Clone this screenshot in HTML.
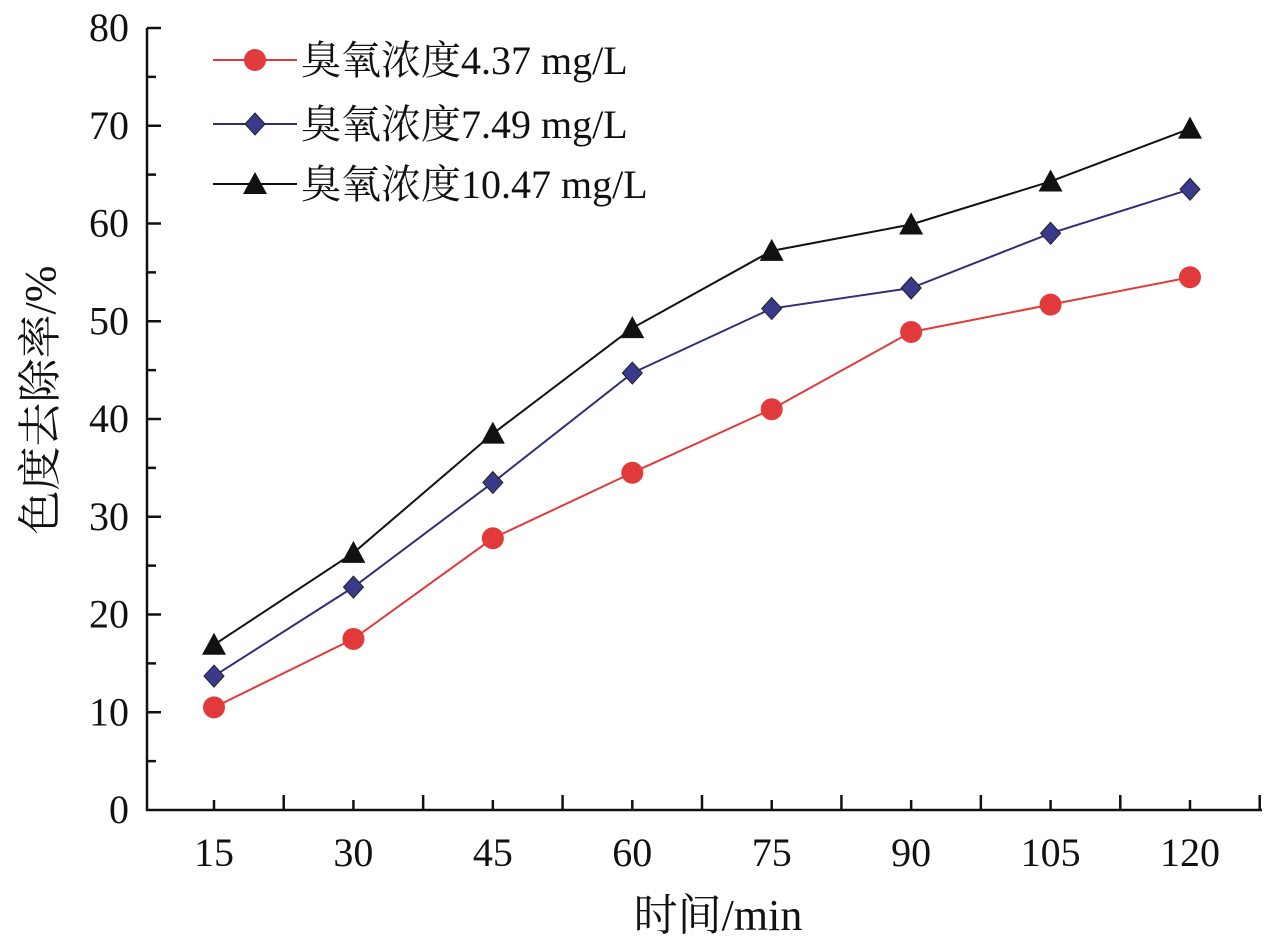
<!DOCTYPE html>
<html><head><meta charset="utf-8"><style>
html,body{margin:0;padding:0;background:#fff;}
svg text{font-family:"Liberation Serif","Noto Serif CJK SC",serif;fill:#111;}
</style></head><body>
<svg id="chart" width="1278" height="943" xmlns="http://www.w3.org/2000/svg">
<g id="axes"></g><g id="series"></g><g id="legend"></g>
</svg>
<script>
const categories=[15,30,45,60,75,90,105,120];
const yTicks=[0,10,20,30,40,50,60,70,80];
const seriesRed=[10.5,17.5,27.8,34.5,41,48.9,51.7,54.5];
const seriesBlue=[13.7,22.8,33.5,44.7,51.3,53.4,59,63.5];
const seriesBlack=[16.9,26.3,38.5,49.3,57.2,59.9,64.3,69.7];
const seriesNames=["臭氧浓度4.37 mg/L","臭氧浓度7.49 mg/L","臭氧浓度10.47 mg/L"];
const NS="http://www.w3.org/2000/svg";
function X(v){return 214+(v-15)*(1190-214)/105;}
function Y(v){return 810-v*(810-28)/80;}
function mk(tag,attrs,parent){const e=document.createElementNS(NS,tag);for(const k in attrs)e.setAttribute(k,attrs[k]);parent.appendChild(e);return e;}
const axes=document.getElementById('axes');
let a=mk('path',{d:'M147,28 V810 H1262',stroke:'#111','stroke-width':2.5,fill:'none'},axes);


for(let v=5;v<80;v+=10){
 const l=mk('line',{x1:147,x2:156,y1:Y(v),y2:Y(v),stroke:'#111','stroke-width':2.5},axes);
 
 
}
yTicks.forEach(t=>{
 if(t>0){
 const l=mk('line',{x1:147,x2:161,y1:Y(t),y2:Y(t),stroke:'#111','stroke-width':2.5},axes);
 
 
 }
 const tx=mk('text',{x:129,y:Y(t)+13,'text-anchor':'end','font-size':40},axes);
 tx.textContent=t;
 
 
});
for(let v=15;v<=127.5;v+=7.5){
 const onCat=categories.includes(v);
 const l=mk('line',{x1:X(v),x2:X(v),y1:810,y2:onCat?800:795,stroke:'#111','stroke-width':2.5},axes);
 
 
}
categories.forEach(c=>{
 const tx=mk('text',{x:X(c),y:866,'text-anchor':'middle','font-size':40},axes);
 tx.textContent=c;
 
 
});
let xt=mk('text',{x:718,y:930,'text-anchor':'middle','font-size':44},axes);
xt.textContent='时间/min';


let yt=mk('text',{x:0,y:0,'text-anchor':'middle','font-size':44,transform:'translate(55,400) rotate(-90)'},axes);
yt.textContent='色度去除率/%';


function marker(kind,x,y,color,p){
 let e;
 if(kind==='circle')e=mk('circle',{cx:x,cy:y,r:11,fill:color},p);
 else if(kind==='diamond')e=mk('path',{d:`M${x},${y-11}L${x+10},${y}L${x},${y+11}L${x-10},${y}Z`,fill:color,stroke:'#222','stroke-width':1},p);
 else e=mk('path',{d:`M${x},${y-12}L${x+12},${y+10}L${x-12},${y+10}Z`,fill:color},p);
 return e;
}
const defs=[[seriesRed,'#e23a3a','#e23a3a','circle','red'],[seriesBlue,'#2f2f7a','#3a3a8c','diamond','blue'],[seriesBlack,'#111','#111','triangle','black']];
const sg=document.getElementById('series');
defs.forEach(([vals,lc,mc,kind,nm])=>{
 const pl=mk('polyline',{points:vals.map((v,i)=>X(categories[i])+','+Y(v)).join(' '),fill:'none',stroke:lc,'stroke-width':2},sg);
 
 
 vals.forEach((v,i)=>{
  const m=marker(kind,X(categories[i]),Y(v),mc,sg);
  
  
 });
});
const lg=document.getElementById('legend');
defs.forEach(([vals,lc,mc,kind,nm],i)=>{
 const y=[60,124,184][i];
 const l=mk('line',{x1:213,x2:297,y1:y,y2:y,stroke:lc,'stroke-width':2},lg);
 
 
 const m=marker(kind,255,y,mc,lg);
 
 
 const t=mk('text',{x:301,y:y+14,'font-size':40},lg);
 t.textContent=seriesNames[i];
 
 
});
</script>
</body></html>
